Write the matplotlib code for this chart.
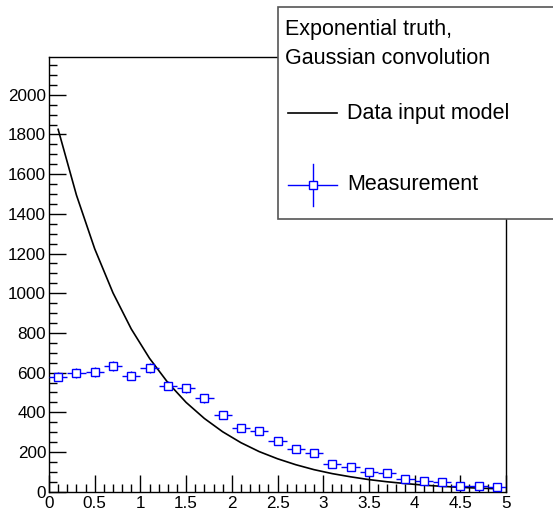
import numpy as np
import matplotlib
matplotlib.use("Agg")
import matplotlib.pyplot as plt
from matplotlib.lines import Line2D
from matplotlib.patches import Rectangle
from matplotlib.ticker import MultipleLocator

plt.rcParams['font.family'] = ['Liberation Sans', 'DejaVu Sans']

# bin centers (bin width 0.2)
bin_centers = [0.1, 0.3, 0.5, 0.7, 0.9, 1.1, 1.3, 1.5, 1.7, 1.9, 2.1, 2.3, 2.5,
               2.7, 2.9, 3.1, 3.3, 3.5, 3.7, 3.9, 4.1, 4.3, 4.5, 4.7, 4.9]
measurement = [580, 597, 605, 635, 585, 625, 534, 521, 471, 385, 323, 306, 257,
               214, 195, 138, 126, 98, 93, 64, 56, 50, 29, 29, 24]
model = [1826, 1495, 1224, 1002, 820, 672, 550, 450, 369, 302, 247, 202, 166,
         136, 111, 91, 75, 61, 50, 41, 33, 27, 22, 18, 15]
bin_half_width = 0.1

legend_header = ["Exponential truth,", "Gaussian convolution"]
legend_labels = ["Data input model", "Measurement"]

W, H = 553, 511
fig = plt.figure(figsize=(W / 100, H / 100), dpi=100)
ax = fig.add_axes([49 / W, 1 - 491.7 / H, (506 - 49) / W, (491.7 - 56.7) / H])

ax.plot(bin_centers, model, color='black', lw=1.2, zorder=3)
meas_err = np.sqrt(np.array(measurement, dtype=float))
ax.errorbar(bin_centers, measurement, xerr=bin_half_width, yerr=meas_err,
            fmt='s', mfc='white', mec='blue', ecolor='blue', color='blue',
            ms=6, mew=1.0, elinewidth=1.0, capsize=0, zorder=4)

ax.set_xlim(0, 5)
ax.set_ylim(0, 2192)
ax.xaxis.set_major_locator(MultipleLocator(0.5))
ax.xaxis.set_minor_locator(MultipleLocator(0.1))
ax.yaxis.set_major_locator(MultipleLocator(200))
ax.yaxis.set_minor_locator(MultipleLocator(50))
ax.tick_params(which='both', direction='in', top=False, right=False,
               labelsize=12.3, colors='black')
ax.tick_params(which='major', length=12, width=1)
ax.tick_params(which='minor', length=6, width=1)
ax.tick_params(axis='x', pad=3)
ax.tick_params(axis='y', pad=2)
ax.xaxis.set_major_formatter(matplotlib.ticker.FuncFormatter(
    lambda v, p: ('%g' % v)))
for s in ax.spines.values():
    s.set_linewidth(1.0)
    s.set_color('black')

# legend box (extends past right edge)
def fx(px):
    return px / W

def fy(py):
    return 1 - py / H

fig.patches.append(Rectangle((fx(277.5), fy(219.5)), fx(300), fy(7.5) - fy(219.5),
                             transform=fig.transFigure, facecolor='white',
                             edgecolor='#555555', lw=1.2, zorder=10))
fs = 15.5
fig.text(fx(285), fy(30), legend_header[0], fontsize=fs, va='center', ha='left', zorder=11)
fig.text(fx(285), fy(58), legend_header[1], fontsize=fs, va='center', ha='left', zorder=11)
fig.lines.append(Line2D([fx(288), fx(337)], [fy(113), fy(113)], color='black', lw=1.2,
                        transform=fig.transFigure, zorder=11))
fig.text(fx(347), fy(113), legend_labels[0], fontsize=fs, va='center', ha='left', zorder=11)
fig.lines.append(Line2D([fx(288), fx(337)], [fy(185), fy(185)], color='blue', lw=1.0,
                        transform=fig.transFigure, zorder=11))
fig.lines.append(Line2D([fx(312.5), fx(312.5)], [fy(164), fy(206)], color='blue', lw=1.0,
                        transform=fig.transFigure, zorder=11))
fig.lines.append(Line2D([fx(312.5)], [fy(185)], marker='s', ms=6, mfc='white', mec='blue',
                        mew=1.0, transform=fig.transFigure, zorder=12))
fig.text(fx(347), fy(185), legend_labels[1], fontsize=fs, va='center', ha='left', zorder=11)

fig.savefig('out.png', dpi=100)
